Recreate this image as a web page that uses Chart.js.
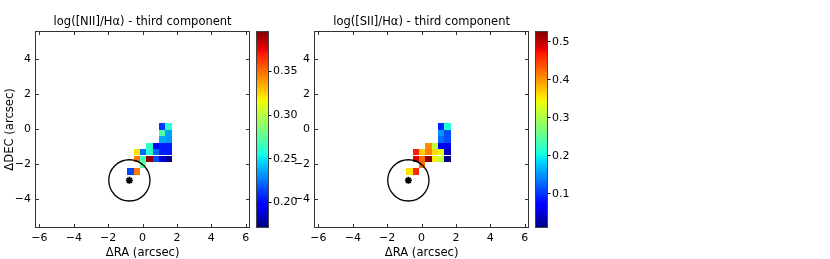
<!DOCTYPE html>
<html>
<head>
<meta charset="utf-8">
<script src="https://cdn.jsdelivr.net/npm/chart.js@4/dist/chart.umd.min.js"></script>
<style>
  html, body { margin: 0; padding: 0; background: #fff; }
  #fig { position: relative; width: 830px; height: 259px; overflow: hidden; }
  #fig canvas { position: absolute; top: 0; }
</style>
</head>
<body>
<div id="fig">
  <canvas id="map1" width="256" height="259" style="left:0px"></canvas>
  <canvas id="cb1" width="60" height="259" style="left:250px"></canvas>
  <canvas id="map2" width="256" height="259" style="left:279px"></canvas>
  <canvas id="cb2" width="60" height="259" style="left:529px"></canvas>
</div>
<script>
// spaxel grid (arcsec), rows top -> bottom, columns left -> right
const colCenters = [-0.696, -0.329, 0.038, 0.405, 0.772, 1.139, 1.506];
const rowCenters = [0.175, -0.195, -0.565, -0.935, -1.305, -1.675, -2.045, -2.415];
const cellSize = 0.367;

// log([NII]/Ha), third component
const niiValues = [
  [null, null, null, null, null, 0.211, 0.261],
  [null, null, null, null, null, 0.272, 0.234],
  [null, null, null, null, null, 0.236, 0.233],
  [null, null, null, 0.263, 0.198, 0.205, 0.206],
  [null, 0.322, 0.223, 0.260, 0.222, 0.206, 0.205],
  [null, 0.347, 0.268, 0.394, 0.215, 0.189, 0.174],
  [null, null, 0.277, null, null, null, null],
  [0.215, 0.347, null, null, null, null, null]
];
// log([SII]/Ha), third component
const siiValues = [
  [null, null, null, null, null, 0.093, 0.212],
  [null, null, null, null, null, 0.150, 0.114],
  [null, null, null, null, null, 0.130, 0.114],
  [null, null, null, 0.404, 0.310, 0.062, 0.062],
  [null, 0.466, 0.367, 0.410, 0.360, 0.337, 0.040],
  [null, 0.486, 0.424, 0.524, 0.350, 0.310, 0.014],
  [null, null, 0.420, null, null, null, null],
  [0.357, 0.460, null, null, null, null, null]
];

const niiRange = [0.171, 0.396];
const siiRange = [0.010, 0.528];
const niiTicks = [0.20, 0.25, 0.30, 0.35];
const siiTicks = [0.1, 0.2, 0.3, 0.4, 0.5];

const nucleus = [-0.77, -2.91];
const psfRadius = 1.2;

const xTicks = [-6, -4, -2, 0, 2, 4, 6];
const yTicks = [-4, -2, 0, 2, 4];
const xRange = [-6.26, 6.26];
const yRange = [-5.63, 5.63];

Chart.defaults.font.family = 'DejaVu Sans';
Chart.defaults.font.size = 11;
Chart.defaults.color = '#000';

function seg(t, pts) {
  for (let i = 1; i < pts.length; i++) {
    if (t <= pts[i][0]) {
      const [x0, y0] = pts[i - 1], [x1, y1] = pts[i];
      return y0 + (y1 - y0) * (t - x0) / (x1 - x0);
    }
  }
  return pts[pts.length - 1][1];
}
// matplotlib 'jet'
function jet(t) {
  t = Math.min(1, Math.max(0, t));
  const r = seg(t, [[0, 0], [0.35, 0], [0.66, 1], [0.89, 1], [1, 0.5]]);
  const g = seg(t, [[0, 0], [0.125, 0], [0.375, 1], [0.64, 1], [0.91, 0], [1, 0]]);
  const b = seg(t, [[0, 0.5], [0.11, 1], [0.34, 1], [0.65, 0], [1, 0]]);
  return 'rgb(' + Math.round(r * 255) + ',' + Math.round(g * 255) + ',' + Math.round(b * 255) + ')';
}

function fmt(v) {
  return v < 0 ? '\u2212' + Math.abs(v) : String(v);
}

const mapPlugin = {
  id: 'ifuMap',
  beforeDatasetsDraw(chart, args, opts) {
    const {ctx, chartArea: a, scales: {x, y}} = chart;
    ctx.save();
    ctx.beginPath();
    ctx.rect(a.left, a.top, a.right - a.left, a.bottom - a.top);
    ctx.clip();
    opts.values.forEach((row, i) => {
      row.forEach((v, j) => {
        if (v === null) return;
        const x0 = Math.round(x.getPixelForValue(colCenters[j] - cellSize / 2));
        const x1 = Math.round(x.getPixelForValue(colCenters[j] + cellSize / 2));
        const y0 = Math.round(y.getPixelForValue(rowCenters[i] + cellSize / 2));
        const y1 = Math.round(y.getPixelForValue(rowCenters[i] - cellSize / 2));
        ctx.fillStyle = jet((v - opts.range[0]) / (opts.range[1] - opts.range[0]));
        ctx.fillRect(x0, y0, x1 - x0, y1 - y0);
      });
    });
    // seeing circle round the nucleus
    const cx = x.getPixelForValue(nucleus[0]);
    const cy = y.getPixelForValue(nucleus[1]);
    const r = x.getPixelForValue(nucleus[0] + psfRadius) - cx;
    ctx.beginPath();
    ctx.arc(cx, cy, r, 0, 2 * Math.PI);
    ctx.strokeStyle = '#000';
    ctx.lineWidth = 1.3;
    ctx.stroke();
    ctx.restore();
  },
  afterDraw(chart) {
    const {ctx, chartArea: a, scales: {x, y}} = chart;
    const L = Math.round(a.left) + 0.5, R = Math.round(a.right) - 0.5;
    const T = Math.round(a.top) + 0.5, B = Math.round(a.bottom) - 0.5;
    ctx.save();
    ctx.strokeStyle = '#333';
    ctx.lineWidth = 1;
    ctx.strokeRect(L, T, R - L, B - T);
    ctx.beginPath();
    x.ticks.forEach(t => {
      const p = Math.round(x.getPixelForValue(t.value)) + 0.5;
      ctx.moveTo(p, B); ctx.lineTo(p, B - 3.5);
      ctx.moveTo(p, T); ctx.lineTo(p, T + 3.5);
    });
    y.ticks.forEach(t => {
      const p = Math.round(y.getPixelForValue(t.value)) + 0.5;
      ctx.moveTo(L, p); ctx.lineTo(L + 3.5, p);
      ctx.moveTo(R, p); ctx.lineTo(R - 3.5, p);
    });
    ctx.stroke();
    ctx.restore();
  }
};

const cbarPlugin = {
  id: 'cbar',
  beforeDatasetsDraw(chart) {
    const {ctx, chartArea: a, scales: {y}} = chart;
    const range = [y.min, y.max];
    ctx.save();
    for (let py = Math.floor(a.top); py < a.bottom; py++) {
      const v = y.getValueForPixel(py + 0.5);
      ctx.fillStyle = jet((v - range[0]) / (range[1] - range[0]));
      ctx.fillRect(a.left, py, a.right - a.left, 1);
    }
    ctx.strokeStyle = '#444';
    ctx.lineWidth = 1;
    ctx.strokeRect(Math.round(a.left) + 0.5, Math.round(a.top) + 0.5,
      Math.round(a.right) - Math.round(a.left) - 1, Math.round(a.bottom) - Math.round(a.top) - 1);
    ctx.restore();
  }
};

function makeMap(id, title, values, range, showYTitle) {
  return new Chart(document.getElementById(id), {
    type: 'scatter',
    data: {
      datasets: [{
        data: [{x: nucleus[0], y: nucleus[1]}],
        pointStyle: 'star',
        pointRadius: 3.5,
        borderWidth: 1.8,
        borderColor: '#000',
        backgroundColor: '#000'
      }]
    },
    options: {
      responsive: false,
      animation: false,
      devicePixelRatio: 1,
      layout: {padding: {left: 0, right: 1.5, top: 0, bottom: 0}},
      plugins: {
        legend: {display: false},
        tooltip: {enabled: false},
        title: {
          display: true,
          text: title,
          fullSize: false,
          color: '#000',
          font: {size: 11.5, weight: 'normal'},
          padding: {top: 15, bottom: 2}
        },
        ifuMap: {values: values, range: range}
      },
      scales: {
        x: {
          type: 'linear',
          min: xRange[0],
          max: xRange[1],
          afterBuildTicks: s => { s.ticks = xTicks.map(v => ({value: v})); },
          afterFit: s => { s.height = 31; },
          grid: {display: false, drawTicks: false},
          border: {display: false},
          ticks: {padding: 4, callback: fmt, maxRotation: 0},
          title: {display: true, text: '\u0394RA (arcsec)', font: {size: 11.6, lineHeight: 1.0}, padding: {top: 0, bottom: 0.5}}
        },
        y: {
          type: 'linear',
          min: yRange[0],
          max: yRange[1],
          afterBuildTicks: s => { s.ticks = yTicks.map(v => ({value: v})); },
          afterFit: s => { s.width = 35; },
          grid: {display: false, drawTicks: false},
          border: {display: false},
          ticks: {padding: 4, callback: fmt},
          title: {display: showYTitle, text: '\u0394DEC (arcsec)', font: {size: 11.6}, padding: {top: 3, bottom: 0}}
        }
      }
    },
    plugins: [mapPlugin]
  });
}

function makeCbar(id, range, ticks, digits) {
  return new Chart(document.getElementById(id), {
    type: 'scatter',
    data: {datasets: []},
    options: {
      responsive: false,
      animation: false,
      devicePixelRatio: 1,
      layout: {padding: {left: 6, right: 0, top: 31, bottom: 31}},
      plugins: {legend: {display: false}, tooltip: {enabled: false}},
      scales: {
        x: {display: false},
        y: {
          type: 'linear',
          position: 'right',
          min: range[0],
          max: range[1],
          afterBuildTicks: s => { s.ticks = ticks.map(v => ({value: v})); },
          afterFit: s => { s.width = 41.5; },
          grid: {display: true, drawOnChartArea: false, drawTicks: true, tickLength: 3, color: '#000'},
          border: {display: false},
          ticks: {padding: 1.5, callback: v => v.toFixed(digits)}
        }
      }
    },
    plugins: [cbarPlugin]
  });
}

makeMap('map1', 'log([NII]/H\u03b1) - third component', niiValues, niiRange, true);
makeCbar('cb1', niiRange, niiTicks, 2);
makeMap('map2', 'log([SII]/H\u03b1) - third component', siiValues, siiRange, false);
makeCbar('cb2', siiRange, siiTicks, 1);
</script>
</body>
</html>
